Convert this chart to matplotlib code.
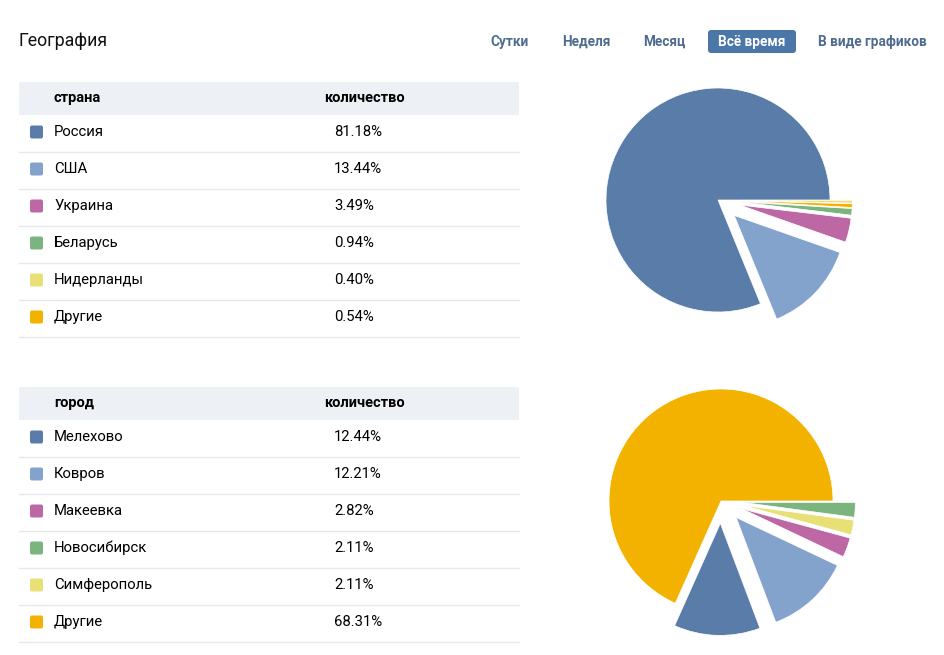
import matplotlib.pyplot as plt
from matplotlib.patches import FancyBboxPatch, Rectangle

plt.rcParams['font.family'] = ['Roboto', 'DejaVu Sans']

# data
countries = ["Россия", "США", "Украина", "Беларусь", "Нидерланды", "Другие"]
country_pct = [81.18, 13.44, 3.49, 0.94, 0.40, 0.54]
cities = ["Мелехово", "Ковров", "Макеевка", "Новосибирск", "Симферополь", "Другие"]
city_pct = [12.44, 12.21, 2.82, 2.11, 2.11, 68.31]
tabs = ["Сутки", "Неделя", "Месяц", "Всё время", "В виде графиков"]
active_tab = "Всё время"

country_colors = ["#5a7ca8", "#83a3cd", "#bd68a5", "#7bb47f", "#e8df76", "#f3b200"]
city_colors = ["#5a7ca8", "#83a3cd", "#bd68a5", "#7bb47f", "#e8df76", "#f3b200"]

# order in which slices go round the pie (counterclockwise from 3 o'clock)
country_pie_order = [0, 1, 2, 3, 5, 4]
city_pie_order = [5, 0, 1, 2, 4, 3]

W, H = 944, 655
fig = plt.figure(figsize=(W / 100, H / 100), dpi=100)
ax = fig.add_axes([0, 0, 1, 1])
ax.set_xlim(0, W)
ax.set_ylim(H, 0)
ax.axis("off")

text_col = "#000000"
tab_col = "#4f6b8f"
head_bg = "#edf0f5"
line_col = "#e7e8ec"

ax.text(19, 41, "География", fontsize=12.8, color="#111111", va="center", ha="left")

tab_x = [490, 562, 643, 718, 818]
for label, x in zip(tabs, tab_x):
    if label == active_tab:
        ax.add_patch(FancyBboxPatch((708, 30), 88, 23, boxstyle="round,pad=0,rounding_size=3",
                                    facecolor="#4a76a8", edgecolor="none"))
        ax.text(x, 42, label, fontsize=9.8, fontweight="bold", color="white", va="center")
    else:
        ax.text(x, 42, label, fontsize=9.8, fontweight="bold", color=tab_col, va="center")


def draw_table(top, head, names, vals, colors):
    ax.add_patch(Rectangle((19, top), 500, 33, facecolor=head_bg, edgecolor="none"))
    ax.text(54, top + 16, head, fontsize=10.5, fontweight="bold", color=text_col, va="center")
    ax.text(324, top + 16, "количество", fontsize=10.5, fontweight="bold", color=text_col, va="center")
    row_h = 37
    for i, (n, v, c) in enumerate(zip(names, vals, colors)):
        y0 = top + 33 + i * row_h
        yc = y0 + row_h / 2 - 1.5
        ax.add_patch(FancyBboxPatch((30, yc - 6.5), 13, 13, boxstyle="round,pad=0,rounding_size=2",
                                    facecolor=c, edgecolor="none"))
        ax.text(54, yc, n, fontsize=10.7, color=text_col, va="center")
        ax.text(334, yc, f"{v:.2f}%", fontsize=10.7, color=text_col, va="center")
        ax.plot([19, 519], [y0 + row_h, y0 + row_h], color=line_col, lw=1)


draw_table(82, "страна", countries, country_pct, country_colors)
draw_table(387, "город", cities, city_pct, city_colors)


def draw_pie(cx, cy, r, vals, colors, order):
    half = 1.3 * r
    pax = fig.add_axes([(cx - half) / W, 1 - (cy + half) / H, 2 * half / W, 2 * half / H])
    v = [vals[i] for i in order]
    c = [colors[i] for i in order]
    explode = [0 if k == 0 else 0.2 for k in range(len(v))]
    pax.pie(v, colors=c, explode=explode, startangle=0, counterclock=True,
            wedgeprops=dict(edgecolor="white", linewidth=0.5))
    pax.set_xlim(-1.3, 1.3)
    pax.set_ylim(-1.3, 1.3)
    pax.set_aspect("equal")
    pax.axis("off")


draw_pie(718, 200, 112, country_pct, country_colors, country_pie_order)
draw_pie(721, 501, 112, city_pct, city_colors, city_pie_order)

fig.savefig("out.png", dpi=100)
